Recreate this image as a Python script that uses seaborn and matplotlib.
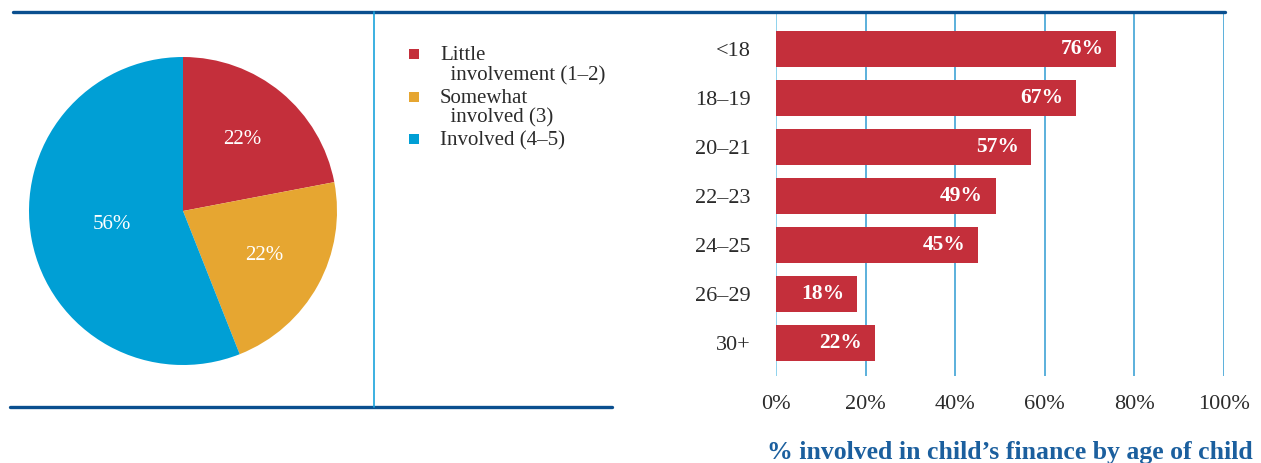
import matplotlib
matplotlib.use("Agg")
import matplotlib.pyplot as plt
import seaborn as sns
import pandas as pd
from matplotlib.lines import Line2D
from matplotlib.patches import Rectangle

# Overall involvement split
involvement_labels = ["Little\n  involvement (1\u20132)", "Somewhat\n  involved (3)", "Involved (4\u20135)"]
involvement_share = [22, 22, 56]

# Share involved by age of child
age_groups = ["<18", "18\u201319", "20\u201321", "22\u201323", "24\u201325", "26\u201329", "30+"]
involved_pct = [76, 67, 57, 49, 45, 18, 22]
x_ticks = [0, 20, 40, 60, 80, 100]
x_title = "% involved in child\u2019s finance by age of child"

RED = "#c42f3b"
GOLD = "#e6a631"
BLUE = "#009fd5"
NAVY = "#0a4f8f"
GRID = "#3fa3d6"
TEXT = "#2b2b2b"
TITLE = "#1b5f9e"

sns.set_theme(style="white")
plt.rcParams["font.family"] = ["Liberation Serif", "DejaVu Serif"]

W, H = 1261, 463
fig = plt.figure(figsize=(W / 100, H / 100), dpi=100)


def box(x0, y0, x1, y1):
    """Pixel box (top-left origin) to figure fraction rect."""
    return [x0 / W, 1 - y1 / H, (x1 - x0) / W, (y1 - y0) / H]


def fx(x):
    return x / W


def fy(y):
    return 1 - y / H


# ---- pie ----
ax_pie = fig.add_axes(box(29, 57, 337, 365))
wedges, _, autotexts = ax_pie.pie(
    involvement_share,
    colors=[RED, GOLD, BLUE],
    startangle=90,
    counterclock=False,
    autopct=lambda p: f"{round(p)}%",
    pctdistance=0.6,
    textprops=dict(color="white", fontsize=15),
    wedgeprops=dict(linewidth=0),
)
# the large slice carries its label closer to the centre
px, py = autotexts[2].get_position()
autotexts[2].set_position((px * 0.47 / 0.6, py * 0.47 / 0.6))
ax_pie.set_xlim(-1, 1)
ax_pie.set_ylim(-1, 1)
ax_pie.set_aspect("equal")
ax_pie.axis("off")

# legend drawn as squares with wrapped labels
line_h = 21.3
y = 54
for wedge, label in zip(wedges, involvement_labels):
    fig.add_artist(Rectangle((fx(409), fy(y + 5)), 10 / W, 10 / H,
                             transform=fig.transFigure,
                             facecolor=wedge.get_facecolor(), edgecolor="none"))
    n = label.count("\n") + 1
    fig.text(fx(440), fy(y - 7.5), label, fontsize=15, color=TEXT,
             va="top", ha="left", linespacing=1.02)
    y += line_h * n

# ---- bars ----
ax_bar = fig.add_axes(box(776, 12, 1224, 376))
df = pd.DataFrame({"age": age_groups, "pct": involved_pct})
sns.barplot(data=df, x="pct", y="age", orient="h", color=RED,
            saturation=1, width=0.73, ax=ax_bar, linewidth=0, zorder=3)
ax_bar.set_xlim(0, 100)
ax_bar.set_ylim(6.68, -0.76)
ax_bar.set_xticks(x_ticks)
ax_bar.set_xticklabels([f"{t}%" for t in x_ticks])
ax_bar.tick_params(axis="x", length=0, pad=14, labelsize=16, labelcolor=TEXT)
ax_bar.tick_params(axis="y", length=0, pad=18, labelsize=16, labelcolor=TEXT)
ax_bar.set_xlabel("")
ax_bar.set_ylabel("")
for s in ax_bar.spines.values():
    s.set_visible(False)
ax_bar.grid(False)
for t in x_ticks:
    ax_bar.axvline(t, color="#7ccbea" if t == 0 else GRID, lw=1.2, zorder=1)

for i, v in enumerate(involved_pct):
    ax_bar.annotate(f"{v}%", xy=(v, i), xytext=(-9, 0), textcoords="offset points",
                    ha="right", va="center", color="white", fontsize=15.5,
                    fontweight="bold", zorder=4)

fig.text(fx(1253), fy(453), x_title, ha="right", va="center",
         fontsize=18.5, fontweight="bold", color=TITLE)

# ---- frame rules ----
fig.add_artist(Line2D([fx(13), fx(1225)], [fy(12), fy(12)], color=NAVY, lw=2.4,
                      transform=fig.transFigure))
fig.add_artist(Line2D([fx(10), fx(612)], [fy(407), fy(407)], color=NAVY, lw=2.4,
                      transform=fig.transFigure))
fig.add_artist(Line2D([fx(374), fx(374)], [fy(12), fy(407)], color="#1aa3dc", lw=1.2,
                      transform=fig.transFigure))

fig.savefig("out.png", dpi=100, facecolor="white")
